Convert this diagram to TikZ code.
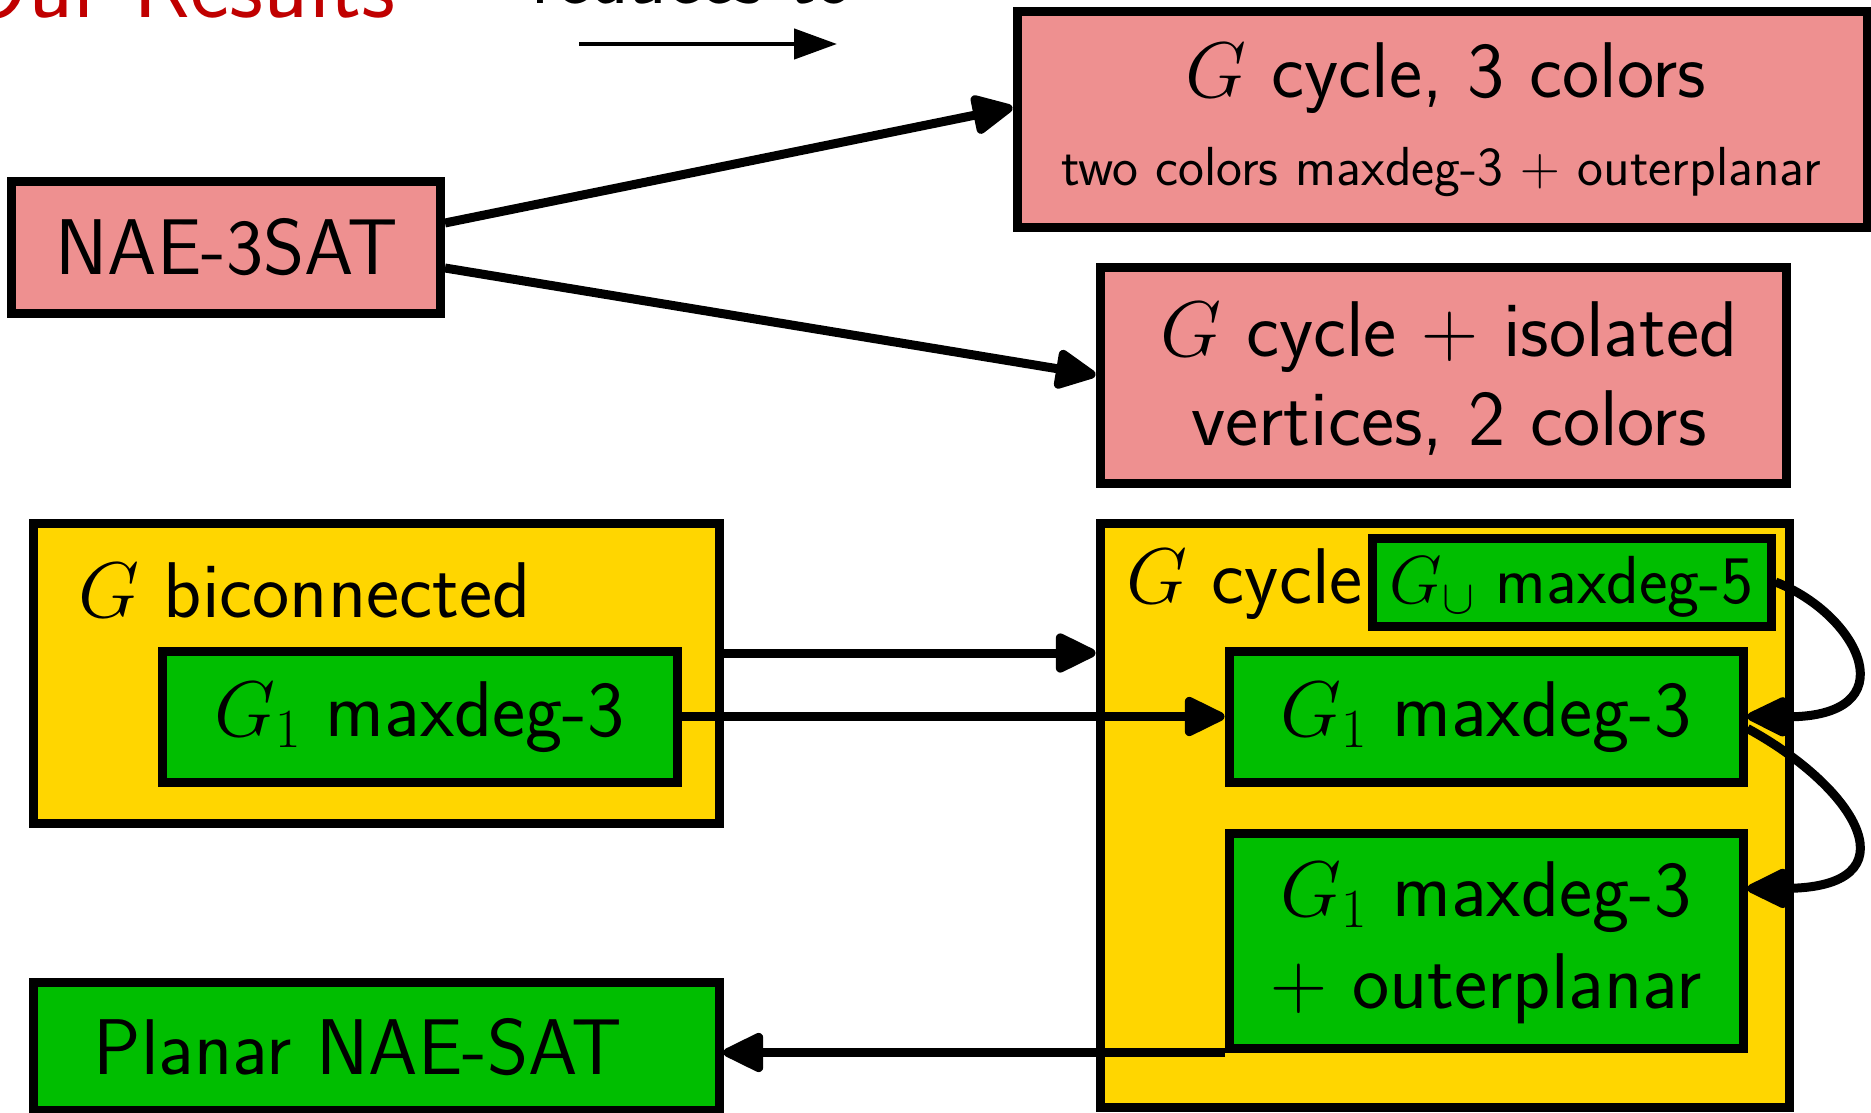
\RequirePackage{fix-cm}
\documentclass[tikz,border=0pt]{standalone}
\usetikzlibrary{arrows.meta,calc}
\definecolor{pinkbox}{RGB}{238,144,144}
\definecolor{yelbox}{RGB}{255,214,0}
\definecolor{grnbox}{RGB}{0,190,0}
\definecolor{titlered}{RGB}{192,0,0}
\begin{document}
\begin{tikzpicture}[x=1pt,y=-1pt,
  box/.style={draw=black,line width=9pt,rectangle,inner sep=0pt},
  pinkb/.style={box,fill=pinkbox},
  yelb/.style={box,fill=yelbox},
  grnb/.style={box,fill=grnbox},
  mainf/.style={font=\fontsize{79}{94}\selectfont\sffamily},
  smallf/.style={font=\fontsize{55}{66}\selectfont\sffamily},
  guf/.style={font=\fontsize{68}{80}\selectfont\sffamily},
  titlef/.style={font=\fontsize{94}{110}\selectfont\sffamily,text=titlered},
  lbl/.style={inner sep=0pt,anchor=base},
  conn/.style={line width=9pt,-{Triangle[length=46pt,width=42pt,round]}},
  legconn/.style={line width=4.5pt,-{Triangle[length=43pt,width=30pt]}}
]
\useasboundingbox (0,0) rectangle (1871,1113);
% title and legend
\node[titlef,lbl,anchor=base east] (title) at (396,18) {Our Results};
\node[font=\fontsize{80}{94}\selectfont\sffamily,lbl] (legtxt) at (692,4) {reduces to};
\coordinate (legA) at (579,44);
\coordinate (legB) at (837,44);
\draw[legconn] (legA) -- (legB);
% pink boxes
\node[pinkb,minimum width=429pt,minimum height=132pt] (nae) at (226,247) {};
\node[mainf,lbl] (naet) at (227,274) {NAE-3SAT};
\node[pinkb,minimum width=850pt,minimum height=215pt] (boxA) at (1442,119.5) {};
\node[mainf,lbl] (boxAt1) at (1446,98) {$G$ cycle, 3 colors};
\node[smallf,lbl] (boxAt2) at (1441,185) {two colors maxdeg-3 $+$ outerplanar};
\node[pinkb,minimum width=686pt,minimum height=216pt] (boxB) at (1443,375) {};
\node[mainf,lbl] (boxBt1) at (1449,356) {$G$ cycle $+$ isolated};
\node[mainf,lbl] (boxBt2) at (1449,445) {vertices, 2 colors};
% left yellow
\node[yelb,minimum width=686pt,minimum height=300pt] (lyel) at (376,673) {};
\node[mainf,lbl,anchor=base west] (lyelt) at (78,617) {$G$ biconnected};
\node[grnb,minimum width=515pt,minimum height=131pt] (lg1) at (419.5,716.5) {};
\node[mainf,lbl] (lg1t) at (419.5,736) {$G_1$ maxdeg-3};
% right yellow
\node[yelb,minimum width=689pt,minimum height=584pt] (ryel) at (1444.5,815) {};
\node[mainf,lbl,anchor=base west] (ryelt) at (1126,603) {$G$ cycle};
\node[grnb,minimum width=399pt,minimum height=88pt] (gu) at (1571.5,582) {};
\node[guf,lbl] (gut) at (1571.5,603) {$G_\cup$ maxdeg-5};
\node[grnb,minimum width=514pt,minimum height=131pt] (rg1) at (1486,716.5) {};
\node[mainf,lbl] (rg1t) at (1486,736) {$G_1$ maxdeg-3};
\node[grnb,minimum width=514pt,minimum height=215pt] (low) at (1486,940.5) {};
\node[mainf,lbl] (lowt1) at (1486,916) {$G_1$ maxdeg-3};
\node[mainf,lbl] (lowt2) at (1486,1008) {$+$ outerplanar};
% planar
\node[grnb,minimum width=686pt,minimum height=128pt] (planar) at (376,1046) {};
\node[mainf,lbl] (planart) at (358,1074) {Planar NAE-SAT};
% connectors
\draw[conn] ([yshift=24pt]nae.east) -- ([yshift=12pt]boxA.west);
\draw[conn] ([yshift=-21pt]nae.east) -- (boxB.west);
\draw[conn] ([yshift=20pt]lyel.east) -- ([yshift=20pt]lyel.east -| ryel.west);
\draw[conn] (lg1.east) -- (rg1.west);
\draw[conn] (gu.east) .. controls (1860,615) and (1910,718) .. (rg1.east);
\draw[conn] ([yshift=-12pt]rg1.east) .. controls (1860,790) and (1915,888) .. ([yshift=52pt]low.east);
\draw[conn] (low.south west) -- (low.south west -| planar.east);
\end{tikzpicture}
\end{document}
